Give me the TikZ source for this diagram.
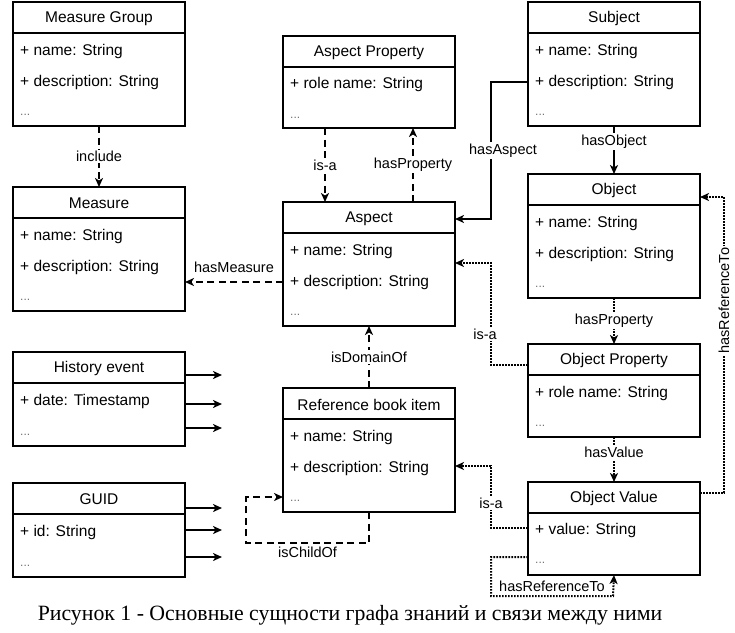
\documentclass[tikz,border=0pt]{standalone}
\usepackage{fontspec}
\setmainfont{Liberation Sans}
\newfontfamily\capfont{Liberation Serif}
\usetikzlibrary{arrows.meta}
\tikzset{
  umlbox/.style={draw, line width=2.4pt, minimum width=172pt, inner sep=0pt, outer sep=0pt, fill=white},
  umlline/.style={line width=2.4pt},
  umltitle/.style={font=\fontsize{15.5}{18}\selectfont, inner sep=0pt},
  umlattr/.style={font=\fontsize{15.5}{18}\selectfont, inner sep=0pt, anchor=west, text height=11pt, text depth=3pt},
  umldots/.style={font=\fontsize{12}{14}\selectfont, inner sep=0pt, anchor=west, text=black!55},
  conn/.style={line width=2pt, -{Stealth[length=9pt,width=8pt,inset=2.5pt]}},
  dashc/.style={conn, dash pattern=on 7pt off 4.5pt},
  dotc/.style={conn, dash pattern=on 1.6pt off 1.4pt},
  lbl/.style={font=\fontsize{14.5}{17}\selectfont, inner sep=1.5pt, fill=white},
  lbln/.style={font=\fontsize{14.5}{17}\selectfont, inner sep=1.5pt},
}
\newcommand\clsbox[5]{%
  \node[umlbox, minimum height=#4pt, anchor=north west] (#1) at (#2,#3) {};
  \draw[umlline] ([yshift=-31pt]#1.north west) -- ([yshift=-31pt]#1.north east);
  \node[umltitle] (#1-t) at ([yshift=-16.5pt]#1.north) {#5};
}
\newcommand\clsattr[4]{%
  \node[umlattr] (#1-a#2) at ([xshift=7pt,yshift=-#3pt]#1.north west) {#4};
}
\newcommand\clsdots[2]{%
  \node[umldots] (#1-d) at ([xshift=7pt,yshift=-#2pt]#1.north west) {...};
}
\begin{document}
\begin{tikzpicture}[x=1pt,y=-1pt]
\useasboundingbox (0,0) rectangle (735,632);

% Measure Group
\clsbox{mg}{13}{2}{124}{Measure Group}
\clsattr{mg}{1}{49}{+ name: String}
\clsattr{mg}{2}{80}{+ description: String}
\clsdots{mg}{113}
% Measure
\clsbox{m}{13}{187}{124}{Measure}
\clsattr{m}{1}{49}{+ name: String}
\clsattr{m}{2}{80}{+ description: String}
\clsdots{m}{113}
% History event
\clsbox{h}{13}{352}{94}{History event}
\clsattr{h}{1}{49}{+ date: Timestamp}
\clsdots{h}{83}
% GUID
\clsbox{g}{13}{483}{94}{GUID}
\clsattr{g}{1}{49}{+ id: String}
\clsdots{g}{83}
% Aspect Property
\clsbox{ap}{283}{36}{92}{Aspect Property}
\clsattr{ap}{1}{48}{+ role name: String}
\clsdots{ap}{82}
% Aspect
\clsbox{a}{283}{202}{124}{Aspect}
\clsattr{a}{1}{49}{+ name: String}
\clsattr{a}{2}{80}{+ description: String}
\clsdots{a}{113}
% Reference book item
\clsbox{r}{283}{388}{124}{Reference book item}
\clsattr{r}{1}{49}{+ name: String}
\clsattr{r}{2}{80}{+ description: String}
\clsdots{r}{113}
% Subject
\clsbox{s}{528}{2}{124}{Subject}
\clsattr{s}{1}{49}{+ name: String}
\clsattr{s}{2}{80}{+ description: String}
\clsdots{s}{113}
% Object
\clsbox{o}{528}{174}{124}{Object}
\clsattr{o}{1}{49}{+ name: String}
\clsattr{o}{2}{80}{+ description: String}
\clsdots{o}{113}
% Object Property
\clsbox{op}{528}{344}{93}{Object Property}
\clsattr{op}{1}{49}{+ role name: String}
\clsdots{op}{82}
% Object Value
\clsbox{ov}{528}{482}{93}{Object Value}
\clsattr{ov}{1}{48}{+ value: String}
\clsdots{ov}{81}

% free ends
\coordinate (h1) at (222,375);
\coordinate (h2) at (222,404);
\coordinate (h3) at (222,428);
\coordinate (g1) at (222,508);
\coordinate (g2) at (222,530);
\coordinate (g3) at (222,557);

% connectors
\draw[dashc] (mg.south) -- node[lbl] {include} (m.north);
\draw[dashc] (a-a2 -| a.west) -- node[lbln, above=7pt] {hasMeasure} (a-a2 -| m.east);
\draw[dashc] ([xshift=42pt]ap.south west) -- node[lbl, pos=0.5] {is-a} ([xshift=42pt]a.north west);
\draw[dashc] ([xshift=130pt]a.north west) -- node[lbl, pos=0.5] {hasProperty} ([xshift=130pt]ap.south west);
\draw[conn] (s-a2 -| s.west) -| node[lbl, pos=0.75, xshift=12pt] {hasAspect} (491,219) -- ([yshift=-17pt]a.north east);
\draw[conn] (s.south) -- node[lbl, pos=0.32] {hasObject} (o.north);
\draw[dotc] (o.south) -- node[lbl] {hasProperty} (op.north);
\draw[dotc] (op.south) -- node[lbl, pos=0.35] {hasValue} (ov.north);
\draw[dotc] ([yshift=-21pt]op.north west) -- (491,365) -- node[lbl, pos=0.3, xshift=-6pt] {is-a} (491,263) -- ([yshift=-61pt]a.north east);
\draw[dotc] ([yshift=-46pt]ov.north west) -- (491,528) -- node[lbl, pos=0.4] {is-a} (491,466) -- ([yshift=-78pt]r.north east);
\draw[dotc] ([yshift=-75pt]ov.north west) -- (491,557) -- (491,596) -- node[lbln, pos=0.5, yshift=10pt] {hasReferenceTo} (613,596) -- (ov.south);
\draw[dotc] ([yshift=-11pt]ov.north east) -- (724,493) -- node[lbl, rotate=90, pos=0.65] {hasReferenceTo} (724,197) -- ([yshift=-23pt]o.north east);
\draw[dashc] (r.north) -- node[lbl, pos=0.5] {isDomainOf} (a.south);
\draw[dashc] (r.south) -- (369,543) -- node[lbln, below=1pt] {isChildOf} (246,543) -- (246,497) -- ([yshift=-109pt]r.north west);

\draw[conn] (h1 -| h.east) -- (h1);
\draw[conn] (h2 -| h.east) -- (h2);
\draw[conn] (h3 -| h.east) -- (h3);
\draw[conn] (g1 -| g.east) -- (g1);
\draw[conn] (g2 -| g.east) -- (g2);
\draw[conn] (g3 -| g.east) -- (g3);

\node[font=\capfont\fontsize{21.8}{26}\selectfont, inner sep=0pt] (cap) at (350,615) {Рисунок 1 - Основные сущности графа знаний и связи между ними};
\end{tikzpicture}
\end{document}
